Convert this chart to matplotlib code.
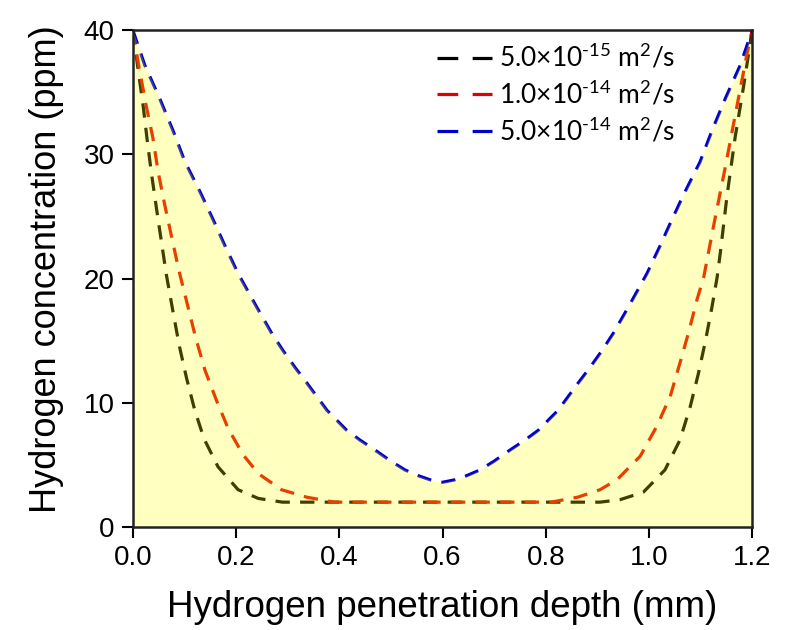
import matplotlib
matplotlib.use("Agg")
import matplotlib.pyplot as plt
from matplotlib.lines import Line2D

# depth (mm) and hydrogen concentration (ppm)
x_d1 = [0, 0.010, 0.020, 0.028, 0.036, 0.046, 0.056, 0.065, 0.078, 0.090, 0.104, 0.120,
        0.138, 0.165, 0.204, 0.243, 0.29, 0.4, 0.6, 0.8, 0.905, 0.944, 0.989, 1.031,
        1.060, 1.080, 1.096, 1.109, 1.122, 1.132, 1.138, 1.151, 1.167, 1.183, 1.2]
y_d1 = [40, 36.9, 33.9, 31.1, 28.5, 25.6, 22.8, 20.3, 17.3, 14.6, 12.0, 9.4,
        7.1, 4.85, 3.0, 2.3, 2.0, 2.0, 2.0, 2.0, 2.0, 2.2, 2.8, 4.6,
        7.0, 9.7, 12.4, 14.9, 17.7, 20.1, 22.0, 26.6, 31.4, 35.4, 40]

x_d2 = [0, 0.012, 0.026, 0.039, 0.049, 0.062, 0.076, 0.089, 0.107, 0.122, 0.140, 0.162,
        0.185, 0.214, 0.243, 0.288, 0.337, 0.39, 0.6, 0.81, 0.862, 0.905, 0.938, 0.983,
        1.015, 1.041, 1.060, 1.077, 1.093, 1.106, 1.125, 1.148, 1.170, 1.190, 1.2]
y_d2 = [40, 37.0, 33.9, 31.3, 28.6, 25.9, 23.2, 20.7, 17.7, 15.2, 12.6, 10.2,
        7.9, 5.8, 4.3, 3.0, 2.4, 2.0, 2.0, 2.0, 2.4, 3.0, 3.8, 5.7,
        8.1, 10.5, 13.2, 15.7, 18.3, 20.1, 24.2, 29.0, 33.8, 38.1, 40]

x_d3 = [0, 0.023, 0.052, 0.078, 0.101, 0.130, 0.156, 0.180, 0.204, 0.240, 0.269, 0.291,
        0.315, 0.337, 0.376, 0.414, 0.440, 0.469, 0.500, 0.527, 0.555, 0.576, 0.6,
        0.624, 0.645, 0.673, 0.700, 0.731, 0.760, 0.786, 0.824, 0.863, 0.885, 0.909,
        0.931, 0.960, 0.996, 1.020, 1.044, 1.070, 1.099, 1.122, 1.148, 1.177, 1.2]
y_d3 = [40, 37.2, 34.5, 31.9, 29.4, 27.0, 24.7, 22.5, 20.4, 17.7, 15.6, 14.2,
        12.8, 11.6, 9.4, 7.8, 7.0, 6.2, 5.3, 4.6, 4.1, 3.8, 3.6,
        3.8, 4.1, 4.6, 5.3, 6.2, 7.0, 7.8, 9.4, 11.6, 12.8, 14.2,
        15.6, 17.7, 20.4, 22.5, 24.7, 27.0, 29.4, 31.9, 34.5, 37.2, 40]

labels = [r"5.0$\times$10$^{\text{-15}}$ m$^{2}$/s",
          r"1.0$\times$10$^{\text{-14}}$ m$^{2}$/s",
          r"5.0$\times$10$^{\text{-14}}$ m$^{2}$/s"]
colors = ["#000000", "#e00000", "#0000cc"]
xticks = [0.0, 0.2, 0.4, 0.6, 0.8, 1.0, 1.2]
yticks = [0, 10, 20, 30, 40]

plt.rcParams["font.family"] = ["Liberation Sans", "DejaVu Sans"]
plt.rcParams["mathtext.fontset"] = "custom"
plt.rcParams["mathtext.rm"] = "Lato"
plt.rcParams["mathtext.it"] = "Lato"

fig = plt.figure(figsize=(7.86, 6.3), dpi=100)
ax = fig.add_axes([0.169, 0.1635, 0.788, 0.7885])

series = [(x_d1, y_d1), (x_d2, y_d2), (x_d3, y_d3)]
for (xs, ys), c in zip(series, colors):
    ax.plot(xs, ys, color=c, lw=2.3, dashes=(4.5, 3.2), zorder=2)

# yellow fill goes over the lines, which tints them
ax.fill_between(x_d3, 0, y_d3, color="#ffff00", alpha=0.25, lw=0, zorder=3)

ax.set_xlim(0, 1.2)
ax.set_ylim(0, 40)
ax.set_xticks(xticks)
ax.set_yticks(yticks)
ax.set_xticklabels([f"{t:.1f}" for t in xticks])
ax.tick_params(direction="out", length=8, width=1.5, labelsize=20, pad=5,
               top=False, right=False)
for s in ax.spines.values():
    s.set_linewidth(1.8)
    s.set_color("#222222")
    s.set_zorder(5)

ax.set_xlabel("Hydrogen penetration depth (mm)", fontsize=26.5, labelpad=14)
ax.set_ylabel("Hydrogen concentration (ppm)", fontsize=26, labelpad=14, y=0.52)

handles = [Line2D([], [], color=c, lw=2.3, dashes=(6.5, 4.5)) for c in colors]
ax.legend(handles, labels, loc="upper left", bbox_to_anchor=(0.482, 0.985), frameon=False,
          prop={"family": "Lato", "size": 19}, handlelength=2.1,
          handletextpad=0.25, labelspacing=0.3, borderaxespad=0, borderpad=0.2)

fig.savefig("out.png", dpi=100)
